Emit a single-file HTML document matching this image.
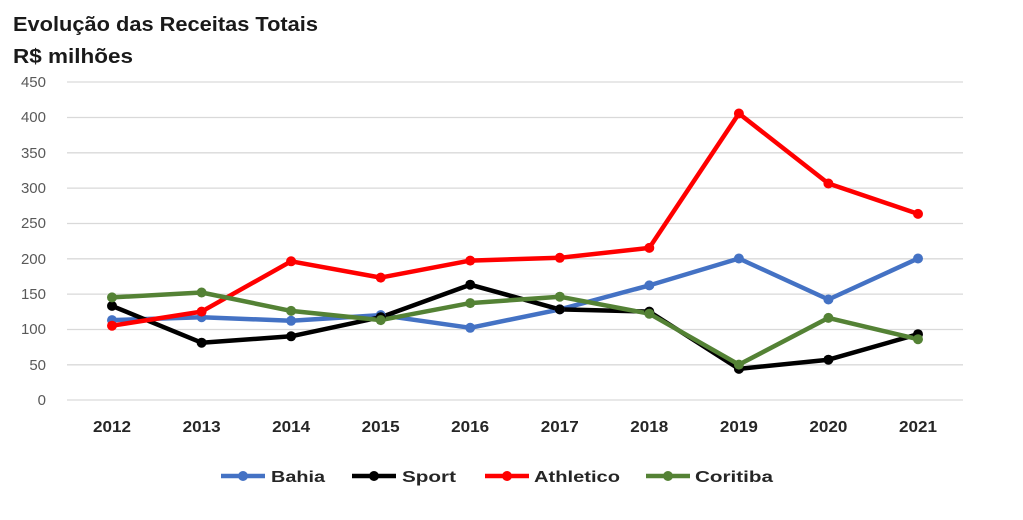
<!DOCTYPE html>
<html><head><meta charset="utf-8"><style>
body{margin:0;background:#fff;}
svg{display:block;font-family:"Liberation Sans",sans-serif;}
</style></head><body>
<svg width="1023" height="520" viewBox="0 0 1023 520">
<text x="13" y="31" font-size="20" font-weight="bold" fill="#1a1a1a" textLength="305" lengthAdjust="spacingAndGlyphs">Evolução das Receitas Totais</text>
<text x="13" y="63" font-size="20" font-weight="bold" fill="#1a1a1a" textLength="120" lengthAdjust="spacingAndGlyphs">R$ milhões</text>
<g stroke="#d9d9d9" stroke-width="1.3">
<line x1="67" x2="963" y1="82" y2="82"/><line x1="67" x2="963" y1="117.5" y2="117.5"/>
<line x1="67" x2="963" y1="152.8" y2="152.8"/><line x1="67" x2="963" y1="188.1" y2="188.1"/>
<line x1="67" x2="963" y1="223.5" y2="223.5"/><line x1="67" x2="963" y1="258.8" y2="258.8"/>
<line x1="67" x2="963" y1="294.1" y2="294.1"/><line x1="67" x2="963" y1="329.5" y2="329.5"/>
<line x1="67" x2="963" y1="364.8" y2="364.8"/><line x1="67" x2="963" y1="400" y2="400"/>
</g>
<g font-size="15" fill="#595959" text-anchor="end">
<text x="46" y="87">450</text><text x="46" y="122">400</text><text x="46" y="158">350</text>
<text x="46" y="193">300</text><text x="46" y="228">250</text><text x="46" y="264">200</text>
<text x="46" y="299">150</text><text x="46" y="334">100</text><text x="46" y="370">50</text>
<text x="46" y="405">0</text>
</g>
<g font-size="16" font-weight="bold" fill="#262626" text-anchor="middle">
<text x="112" y="432" textLength="38" lengthAdjust="spacingAndGlyphs">2012</text><text x="201.6" y="432" textLength="38" lengthAdjust="spacingAndGlyphs">2013</text><text x="291.1" y="432" textLength="38" lengthAdjust="spacingAndGlyphs">2014</text>
<text x="380.7" y="432" textLength="38" lengthAdjust="spacingAndGlyphs">2015</text><text x="470.2" y="432" textLength="38" lengthAdjust="spacingAndGlyphs">2016</text><text x="559.8" y="432" textLength="38" lengthAdjust="spacingAndGlyphs">2017</text>
<text x="649.3" y="432" textLength="38" lengthAdjust="spacingAndGlyphs">2018</text><text x="738.9" y="432" textLength="38" lengthAdjust="spacingAndGlyphs">2019</text><text x="828.4" y="432" textLength="38" lengthAdjust="spacingAndGlyphs">2020</text>
<text x="918" y="432" textLength="38" lengthAdjust="spacingAndGlyphs">2021</text>
</g>
<g fill="none" stroke-width="4.5" stroke-linejoin="round">
<polyline stroke="#4472c4" points="112,320.1 201.6,317.2 291.1,320.8 380.7,315.1 470.2,327.8 559.8,309.4 649.3,285.4 738.9,258.5 828.4,299.5 918,258.5"/>
<polyline stroke="#000" points="112,305.9 201.6,342.7 291.1,336.3 380.7,317.2 470.2,284.7 559.8,309.4 649.3,311.6 738.9,368.9 828.4,359.7 918,334.2"/>
<polyline stroke="#ff0000" points="112,325.7 201.6,311.6 291.1,261.3 380.7,277.6 470.2,260.6 559.8,257.8 649.3,247.9 738.9,113.5 828.4,183.5 918,213.9"/>
<polyline stroke="#548235" points="112,297.4 201.6,292.5 291.1,310.9 380.7,320.1 470.2,303.1 559.8,296.7 649.3,313.7 738.9,364.6 828.4,317.9 918,339.2"/>
</g>
<g fill="#4472c4"><circle cx="112" cy="320.1" r="5"/><circle cx="201.6" cy="317.2" r="5"/><circle cx="291.1" cy="320.8" r="5"/><circle cx="380.7" cy="315.1" r="5"/><circle cx="470.2" cy="327.8" r="5"/><circle cx="559.8" cy="309.4" r="5"/><circle cx="649.3" cy="285.4" r="5"/><circle cx="738.9" cy="258.5" r="5"/><circle cx="828.4" cy="299.5" r="5"/><circle cx="918" cy="258.5" r="5"/></g>
<g fill="#000"><circle cx="112" cy="305.9" r="5"/><circle cx="201.6" cy="342.7" r="5"/><circle cx="291.1" cy="336.3" r="5"/><circle cx="380.7" cy="317.2" r="5"/><circle cx="470.2" cy="284.7" r="5"/><circle cx="559.8" cy="309.4" r="5"/><circle cx="649.3" cy="311.6" r="5"/><circle cx="738.9" cy="368.9" r="5"/><circle cx="828.4" cy="359.7" r="5"/><circle cx="918" cy="334.2" r="5"/></g>
<g fill="#ff0000"><circle cx="112" cy="325.7" r="5"/><circle cx="201.6" cy="311.6" r="5"/><circle cx="291.1" cy="261.3" r="5"/><circle cx="380.7" cy="277.6" r="5"/><circle cx="470.2" cy="260.6" r="5"/><circle cx="559.8" cy="257.8" r="5"/><circle cx="649.3" cy="247.9" r="5"/><circle cx="738.9" cy="113.5" r="5"/><circle cx="828.4" cy="183.5" r="5"/><circle cx="918" cy="213.9" r="5"/></g>
<g fill="#548235"><circle cx="112" cy="297.4" r="5"/><circle cx="201.6" cy="292.5" r="5"/><circle cx="291.1" cy="310.9" r="5"/><circle cx="380.7" cy="320.1" r="5"/><circle cx="470.2" cy="303.1" r="5"/><circle cx="559.8" cy="296.7" r="5"/><circle cx="649.3" cy="313.7" r="5"/><circle cx="738.9" cy="364.6" r="5"/><circle cx="828.4" cy="317.9" r="5"/><circle cx="918" cy="339.2" r="5"/></g>
<g stroke-width="4.5">
<line x1="221" x2="265" y1="476" y2="476" stroke="#4472c4"/><circle cx="243" cy="476" r="5" fill="#4472c4"/>
<line x1="352" x2="396" y1="476" y2="476" stroke="#000"/><circle cx="374" cy="476" r="5" fill="#000"/>
<line x1="485" x2="529" y1="476" y2="476" stroke="#ff0000"/><circle cx="507" cy="476" r="5" fill="#ff0000"/>
<line x1="646" x2="690" y1="476" y2="476" stroke="#548235"/><circle cx="668" cy="476" r="5" fill="#548235"/>
</g>
<g font-size="16" font-weight="bold" fill="#262626">
<text x="271" y="482" textLength="54" lengthAdjust="spacingAndGlyphs">Bahia</text><text x="402" y="482" textLength="54" lengthAdjust="spacingAndGlyphs">Sport</text><text x="534" y="482" textLength="86" lengthAdjust="spacingAndGlyphs">Athletico</text><text x="695" y="482" textLength="78" lengthAdjust="spacingAndGlyphs">Coritiba</text>
</g>
</svg>
</body></html>
